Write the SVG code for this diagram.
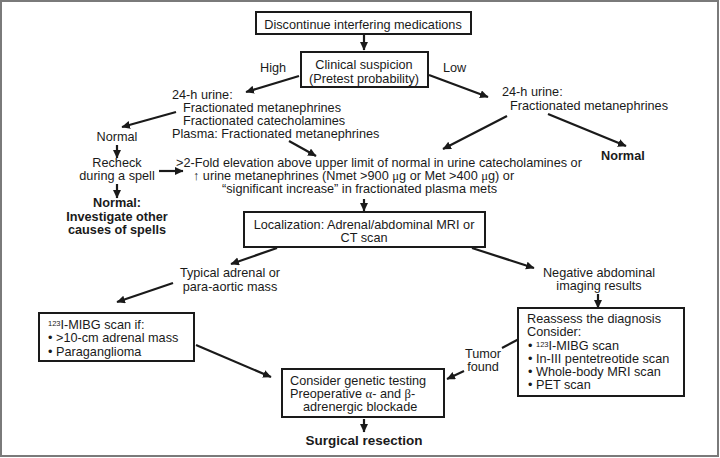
<svg xmlns="http://www.w3.org/2000/svg" width="720" height="458" viewBox="0 0 720 458">
<style>
  text { font-family: "Liberation Sans", Arial, sans-serif; font-size: 12.7px; fill: #1a1a1a; }
  .c { text-anchor: middle; }
  .b { font-weight: bold; }
  .sup { font-size: 7.5px; }
  .gr { font-family: "Liberation Serif", "Times New Roman", serif; }
  .box { fill: #fff; stroke: #1a1a1a; stroke-width: 2; }
  .ln { stroke: #1a1a1a; stroke-width: 2.2; fill: none; marker-end: url(#ah); }
  .seg { stroke: #1a1a1a; stroke-width: 2.2; fill: none; }
</style>
<defs>
  <marker id="ah" markerUnits="userSpaceOnUse" markerWidth="10" markerHeight="9" refX="8" refY="4" orient="auto">
    <path d="M0,0 L8.5,4 L0,8 z" fill="#1a1a1a"/>
  </marker>
</defs>
<rect x="0" y="0" width="720" height="458" fill="#fff"/>
<rect x="1" y="1" width="717" height="455" fill="none" stroke="#7a7a7a" stroke-width="2"/>

<g id="connectors">
  <line class="ln" x1="364" y1="35" x2="364" y2="50"/>
  <line class="ln" x1="299" y1="76" x2="246" y2="92"/>
  <line class="ln" x1="429" y1="75" x2="488" y2="97"/>
  <line class="ln" x1="176" y1="112" x2="122" y2="127"/>
  <line class="ln" x1="117" y1="145" x2="117" y2="158"/>
  <line class="ln" x1="159" y1="171" x2="183" y2="171"/>
  <line class="ln" x1="117" y1="184" x2="117" y2="198"/>
  <line class="ln" x1="289" y1="141" x2="316" y2="156"/>
  <line class="ln" x1="507" y1="116" x2="443" y2="149"/>
  <line class="ln" x1="548" y1="114" x2="626" y2="146"/>
  <line class="ln" x1="364" y1="199" x2="364" y2="211"/>
  <line class="ln" x1="277" y1="248" x2="231" y2="264"/>
  <line class="ln" x1="472" y1="248" x2="534" y2="268"/>
  <line class="ln" x1="173" y1="283" x2="117" y2="302"/>
  <line class="ln" x1="598" y1="294" x2="598" y2="308"/>
  <line class="ln" x1="196" y1="345" x2="271" y2="377"/>
  <line class="seg" x1="519" y1="339" x2="502" y2="348"/>
  <line class="ln" x1="464" y1="371" x2="447" y2="379"/>
  <line class="ln" x1="364" y1="419" x2="364" y2="432"/>
</g>

<g id="discontinue">
  <rect class="box" x="256" y="12" width="215" height="22"/>
  <text class="c" x="363" y="28.5">Discontinue interfering medications</text>
</g>

<g id="clinical">
  <rect class="box" x="301" y="52" width="127" height="35"/>
  <text class="c" x="364" y="68.5">Clinical suspicion</text>
  <text class="c" x="364" y="82.5">(Pretest probability)</text>
</g>

<g id="label-high"><text x="260" y="72">High</text></g>
<g id="label-low"><text x="443" y="72">Low</text></g>

<g id="high-tests">
  <text x="172" y="98.5">24-h urine:</text>
  <text x="183" y="111.5">Fractionated metanephrines</text>
  <text x="183" y="124.5">Fractionated catecholamines</text>
  <text x="172" y="137.5">Plasma: Fractionated metanephrines</text>
</g>

<g id="low-tests">
  <text x="502" y="95.5">24-h urine:</text>
  <text x="510" y="109.5">Fractionated metanephrines</text>
</g>

<g id="normal-left"><text class="c" x="117" y="141">Normal</text></g>

<g id="recheck">
  <text class="c" x="117" y="167">Recheck</text>
  <text class="c" x="117" y="180">during a spell</text>
</g>

<g id="normal-investigate">
  <text class="c b" x="117" y="207">Normal:</text>
  <text class="c b" x="117" y="220.5">Investigate other</text>
  <text class="c b" x="117" y="233.5">causes of spells</text>
</g>

<g id="elevation">
  <text x="176" y="167">&gt;2-Fold elevation above upper limit of normal in urine catecholamines or</text>
  <text x="193" y="180">↑ urine metanephrines (Nmet &gt;900 <tspan class="gr">μ</tspan>g or Met &gt;400 <tspan class="gr">μ</tspan>g) or</text>
  <text x="222" y="193">“significant increase” in fractionated plasma mets</text>
</g>

<g id="normal-right"><text class="b" x="601" y="160">Normal</text></g>

<g id="localization">
  <rect class="box" x="244" y="212" width="241" height="35"/>
  <text class="c" x="364" y="229">Localization: Adrenal/abdominal MRI or</text>
  <text class="c" x="364" y="242">CT scan</text>
</g>

<g id="typical">
  <text class="c" x="230" y="277">Typical adrenal or</text>
  <text class="c" x="230" y="291">para-aortic mass</text>
</g>

<g id="negative">
  <text class="c" x="599" y="277">Negative abdominal</text>
  <text class="c" x="599" y="290">imaging results</text>
</g>

<g id="mibg">
  <rect class="box" x="39" y="313" width="155" height="48"/>
  <text x="48" y="329"><tspan class="sup" dy="-3">123</tspan><tspan dy="3">I-MIBG scan if:</tspan></text>
  <text x="48" y="342">• &gt;10-cm adrenal mass</text>
  <text x="48" y="356">• Paraganglioma</text>
</g>

<g id="reassess">
  <rect class="box" x="518" y="308" width="166" height="88"/>
  <text x="527" y="323">Reassess the diagnosis</text>
  <text x="527" y="336">Consider:</text>
  <text x="528" y="350">•  <tspan class="sup" dy="-3">123</tspan><tspan dy="3">I-MIBG scan</tspan></text>
  <text x="528" y="363">• In-III pentetreotide scan</text>
  <text x="528" y="376">• Whole-body MRI scan</text>
  <text x="528" y="389">• PET scan</text>
</g>

<g id="tumor-found">
  <text class="c" x="483" y="358">Tumor</text>
  <text class="c" x="483" y="371">found</text>
</g>

<g id="genetic">
  <rect class="box" x="282" y="369" width="162" height="48"/>
  <text x="290" y="385">Consider genetic testing</text>
  <text x="290" y="398">Preoperative <tspan class="gr">α</tspan>- and <tspan class="gr">β</tspan>-</text>
  <text x="303" y="411">adrenergic blockade</text>
</g>

<g id="surgical">
  <text class="c b" x="364" y="445" style="font-size:13.5px">Surgical resection</text>
</g>
</svg>
